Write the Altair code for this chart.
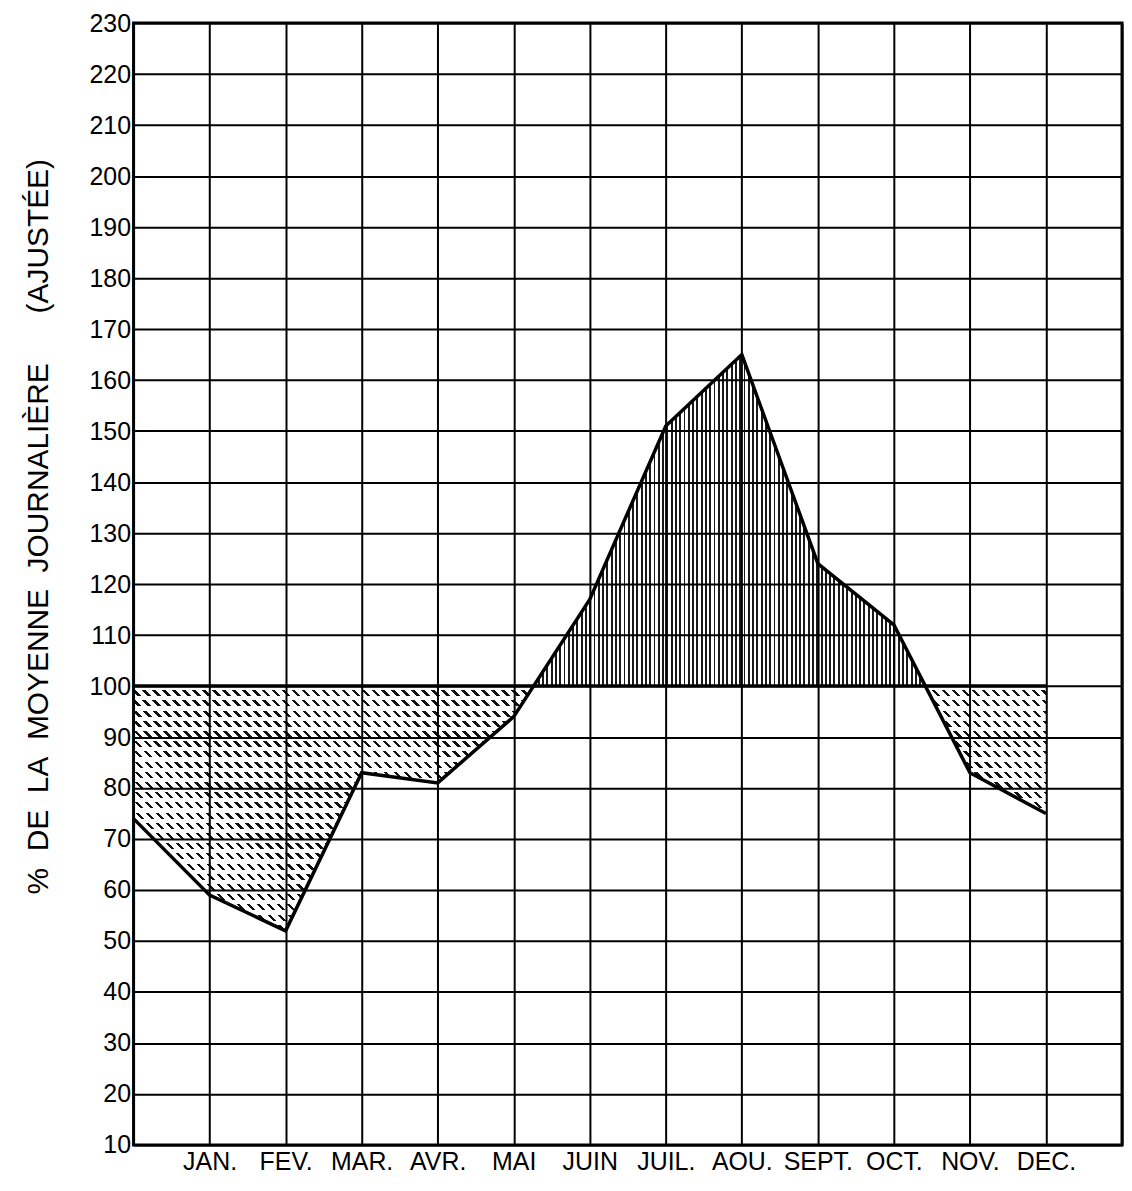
import math
import altair as alt
import pandas as pd

# ---------------- data ----------------
months = ["JAN.", "FEV.", "MAR.", "AVR.", "MAI", "JUIN", "JUIL.", "AOU.",
          "SEPT.", "OCT.", "NOV.", "DEC."]
positions = list(range(13))          # 0 = start of year, 1..12 = months
values = [74, 59, 52, 83, 81, 94, 117, 151, 165, 124, 112, 83, 75]
baseline = 100
y_ticks = list(range(10, 231, 10))
x_grid = list(range(14))

# ---------------- layout ----------------
W, H = 992, 1126
X_DOMAIN = [0, 13]
Y_DOMAIN = [10, 230]
PX = W / (X_DOMAIN[1] - X_DOMAIN[0])
PY = H / (Y_DOMAIN[1] - Y_DOMAIN[0])
FONT = "Liberation Sans"

xs = alt.Scale(domain=X_DOMAIN, nice=False, zero=False)
ys = alt.Scale(domain=Y_DOMAIN, nice=False, zero=False)

# ---------------- split the curve into surplus / deficit pieces ----------------
pieces = []
cur_kind, cur = None, []
for i, (x, v) in enumerate(zip(positions, values)):
    kind = "up" if v >= baseline else "down"
    if cur_kind is None:
        cur_kind, cur = kind, [(x, v)]
    elif kind == cur_kind:
        cur.append((x, v))
    else:
        xp, vp = positions[i - 1], values[i - 1]
        xc = xp + (baseline - vp) / (v - vp) * (x - xp)
        cur.append((xc, baseline))
        pieces.append((cur_kind, cur))
        cur_kind, cur = kind, [(xc, baseline), (x, v)]
pieces.append((cur_kind, cur))


def periodic_stops(length_px, period, frac, ink, paper):
    stops = []
    n = int(math.ceil(length_px / period))
    for i in range(n):
        a = min(1.0, round(i * period / length_px, 5))
        b = min(1.0, round((i + frac) * period / length_px, 5))
        c = min(1.0, round((i + 1) * period / length_px, 5))
        stops += [alt.GradientStop(offset=a, color=ink),
                  alt.GradientStop(offset=b, color=ink),
                  alt.GradientStop(offset=b, color=paper),
                  alt.GradientStop(offset=c, color=paper)]
    return stops


layers = []
for kind, pts in pieces:
    df = pd.DataFrame({"x": [p[0] for p in pts], "v": [p[1] for p in pts]})
    df["base"] = baseline
    wp = (df["x"].max() - df["x"].min()) * PX
    hp = abs(df["v"] - baseline).max() * PY
    enc = dict(x=alt.X("x:Q", scale=xs), y=alt.Y("v:Q", scale=ys), y2="base:Q")
    if kind == "up":
        grad = alt.LinearGradient(
            gradient="linear", x1=0, y1=0, x2=1, y2=0,
            stops=periodic_stops(wp, 4.3, 0.45, "#1a1a1a", "#ffffff"))
        layers.append(alt.Chart(df).mark_area(fill=grad, opacity=1, strokeWidth=0).encode(**enc))
    else:
        lam = (wp + hp) / (wp ** 2 + hp ** 2)
        diag = alt.LinearGradient(
            gradient="linear", x1=0, y1=1, x2=lam * wp, y2=1 - lam * hp,
            stops=periodic_stops(wp + hp, 10.0, 0.36, "#111111", "#ffffff"))
        layers.append(alt.Chart(df).mark_area(fill=diag, opacity=1, strokeWidth=0).encode(**enc))
        gaps = alt.LinearGradient(
            gradient="linear", x1=0, y1=0, x2=0, y2=1,
            stops=periodic_stops(hp, PY * 10 / 5, 0.4, "#ffffff", "rgba(255,255,255,0)"))
        layers.append(alt.Chart(df).mark_area(fill=gaps, opacity=1, strokeWidth=0).encode(**enc))

# ---------------- curve and 100 % line ----------------
line_df = pd.DataFrame({"x": positions, "v": values})
line = alt.Chart(line_df).mark_line(color="black", strokeWidth=3.5).encode(
    x=alt.X("x:Q", scale=xs), y=alt.Y("v:Q", scale=ys))

base_df = pd.DataFrame({"x": [positions[0]], "x2": [positions[-1]], "v": [baseline]})
base_rule = alt.Chart(base_df).mark_rule(color="black", strokeWidth=3.5).encode(
    x=alt.X("x:Q", scale=xs), x2="x2:Q", y=alt.Y("v:Q", scale=ys))

# ---------------- axes ----------------
months_js = "[" + ",".join("'" + m + "'" for m in months) + "]"
label_expr = ("datum.value >= 1 && datum.value <= 12 ? "
              + months_js + "[datum.value - 1] : ''")

sp = "\u00a0"
y_title = ("%" + sp * 2 + "DE" + sp * 2 + "LA" + sp * 2 + "MOYENNE" + sp * 2
           + "JOURNALIÈRE" + sp * 6 + "(AJUSTÉE)")

x_axis = alt.Axis(values=x_grid, labelExpr=label_expr, grid=True, gridColor="black",
                  gridWidth=2, gridOpacity=1, ticks=False, domain=False, title=None,
                  labelFont=FONT, labelFontSize=25, labelColor="black", labelPadding=5,
                  labelOverlap=False, labelFlush=False, labelBound=False, zindex=1)
y_axis = alt.Axis(values=y_ticks, grid=True, gridColor="black", gridWidth=2, gridOpacity=1,
                  ticks=False, domain=False,
                  title=y_title,
                  titleFont=FONT, titleFontSize=30, titleFontWeight="normal", titleColor="black",
                  titleX=-80, titleY=505,
                  labelFont=FONT, labelFontSize=25, labelColor="black", labelPadding=3,
                  labelOverlap=False, labelFlush=False, labelBound=False, zindex=1)

axes_layer = alt.Chart(line_df).mark_line(opacity=0).encode(
    x=alt.X("x:Q", scale=xs, axis=x_axis), y=alt.Y("v:Q", scale=ys, axis=y_axis))

chart = alt.layer(axes_layer, *layers, base_rule, line).properties(
    width=W, height=H,
    padding={"left": 16, "top": 1, "right": 2, "bottom": 2},
    background="white",
).configure_view(stroke="black", strokeWidth=3)

chart.save("out.html", embed_options={"renderer": "svg", "actions": False})
